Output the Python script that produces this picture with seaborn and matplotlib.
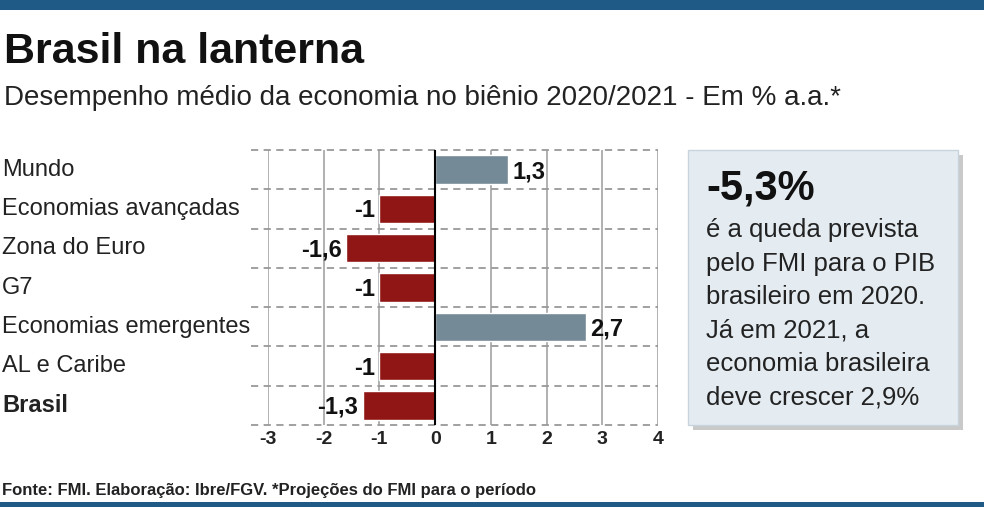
import numpy as np
import pandas as pd
import matplotlib
matplotlib.use('Agg')
import matplotlib.pyplot as plt
import seaborn as sns
from matplotlib.patches import FancyBboxPatch, Rectangle

sns.set_style('white')
plt.rcParams['font.family'] = ['Liberation Sans Narrow', 'Liberation Sans', 'DejaVu Sans']

regions = ['Mundo', 'Economias avançadas', 'Zona do Euro', 'G7',
           'Economias emergentes', 'AL e Caribe', 'Brasil']
values = [1.3, -1.0, -1.6, -1.0, 2.7, -1.0, -1.3]
value_labels = ['1,3', '-1', '-1,6', '-1', '2,7', '-1', '-1,3']
ticks = [-3, -2, -1, 0, 1, 2, 3, 4]

blue = '#6e8c9c'
red = '#a50000'
navy = '#1f5a86'

df = pd.DataFrame({'region': regions, 'value': values})
df['sign'] = np.where(df['value'] > 0, 'pos', 'neg')

fig = plt.figure(figsize=(9.84, 5.07), dpi=100)
ax = fig.add_axes([268 / 984, 1 - 425 / 507, 390 / 984, 275 / 507])

sns.barplot(data=df, x='value', y='region', hue='sign', palette={'pos': blue, 'neg': red},
            dodge=False, width=0.72, legend=False, ax=ax, zorder=3)
ax.set_xlim(-3, 4)
ax.set_ylim(6.5, -0.5)
for t in ticks:
    ax.axvline(t, color='#aaaaaa', lw=1.3, zorder=1)
ax.axvline(0, color='black', lw=1.5, zorder=4)
for y in np.arange(-0.5, 7, 1):
    ax.plot([-3.3, 4], [y, y], color='#999999', lw=1.3, ls=(0, (4, 3)),
            clip_on=False, zorder=2)

for i, (v, lab) in enumerate(zip(values, value_labels)):
    off = 0.08 if v > 0 else -0.08
    ax.text(v + off, i + 0.05, lab, ha='left' if v > 0 else 'right', va='center',
            fontsize=17, fontweight='bold', color='#111111', zorder=5)

for s in ax.spines.values():
    s.set_visible(False)
ax.set_yticks([])
ax.set_ylabel('')
ax.set_xlabel('')
ax.set_xticks(ticks)
ax.set_xticklabels([str(t) for t in ticks], fontsize=14, fontweight='bold', color='#222222')
ax.tick_params(axis='x', length=0, pad=4)

for i, r in enumerate(regions):
    y = 1 - (150 + 39.3 * (i + 0.5)) / 507
    fig.text(2 / 984, y, r, fontsize=17, va='center', color='#222222',
             fontweight='bold' if r == 'Brasil' else 'normal')

# top/bottom bars
fig.add_artist(Rectangle((0, 1 - 10 / 507), 1, 10 / 507, transform=fig.transFigure,
                         color=navy, lw=0))
fig.add_artist(Rectangle((0, 0), 1, 5 / 507, transform=fig.transFigure, color=navy, lw=0))

fig.text(4 / 984, 1 - 52 / 507, 'Brasil na lanterna', fontsize=31, fontweight='bold',
         va='center', color='#111111')
fig.text(4 / 984, 1 - 98 / 507, 'Desempenho médio da economia no biênio 2020/2021 - Em % a.a.*',
         fontsize=20, va='center', color='#222222')
fig.text(2 / 984, 1 - 490 / 507, 'Fonte: FMI. Elaboração: Ibre/FGV. *Projeções do FMI para o período',
         fontsize=12, fontweight='bold', va='center', color='#222222')

# info box with shadow
bx, by, bw, bh = 688 / 984, 1 - 425 / 507, 270 / 984, 275 / 507
fig.add_artist(Rectangle((bx + 5 / 984, by - 5 / 507), bw, bh, transform=fig.transFigure,
                         color='#c9c9c9', lw=0))
fig.add_artist(Rectangle((bx, by), bw, bh, transform=fig.transFigure,
                         facecolor='#e4ecf2', edgecolor='#c8d4dc', lw=1))
fig.text(706 / 984, 1 - 188 / 507, '-5,3%', fontsize=30, fontweight='bold',
         va='center', color='#111111')
box_lines = ['é a queda prevista', 'pelo FMI para o PIB', 'brasileiro em 2020.',
             'Já em 2021, a', 'economia brasileira', 'deve crescer 2,9%']
for i, line in enumerate(box_lines):
    fig.text(706 / 984, 1 - (230 + 33.5 * i) / 507, line, fontsize=18.5,
             va='center', color='#222222')

plt.savefig('out.png', dpi=100)
plt.close()
